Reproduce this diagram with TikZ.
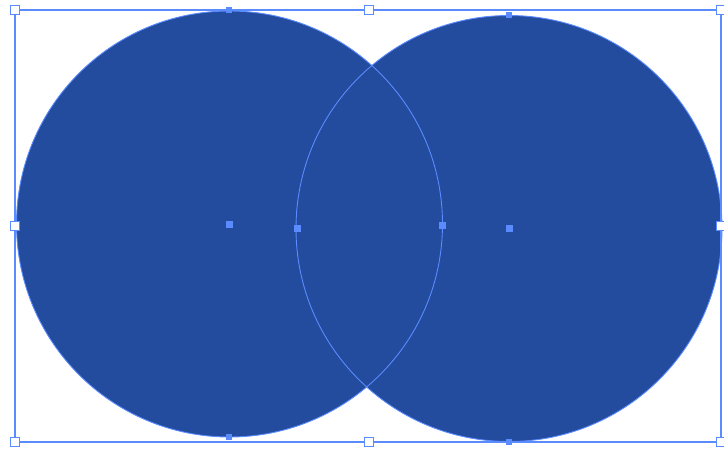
\documentclass[tikz,border=0pt]{standalone}
\begin{document}
\begin{tikzpicture}[x=1pt,y=-1pt,
  blob/.style={circle,fill=fillblue,draw=none,inner sep=0pt,minimum size=426pt},
  rim/.style={circle,draw=lineblue,line width=0.9pt,inner sep=0pt,minimum size=426pt},
  handle/.style={rectangle,draw=lineblue,fill=white,line width=1.6pt,inner sep=0pt,minimum size=9pt},
  anchorpt/.style={rectangle,fill=lineblue,draw=none,inner sep=0pt,minimum size=7pt},
  selbox/.style={draw=lineblue,line width=1.6pt}]
\definecolor{fillblue}{HTML}{234B9E}
\definecolor{lineblue}{HTML}{5B8CFF}
\useasboundingbox (0,0) rectangle (724,450);
\node[blob] (L) at (229.5,224) {};
\node[blob] (R) at (509,228.5) {};
\node[rim] (Lr) at (229.5,224) {};
\node[rim] (Rr) at (509,228.5) {};
% selection box
\coordinate (tl) at (15,10);
\coordinate (br) at (721,442);
\draw[selbox] (tl) rectangle (br);
% anchor points
\node[anchorpt] (lc) at (229.5,224) {};
\node[anchorpt] (rc) at (509,228.5) {};
\node[anchorpt] (la) at (442,225) {};
\node[anchorpt] (ra) at (297,228) {};
\node[anchorpt,minimum size=6pt] (lt) at (229,10) {};
\node[anchorpt,minimum size=6pt] (lb) at (229,437) {};
\node[anchorpt,minimum size=6pt] (rt) at (509,15) {};
\node[anchorpt,minimum size=6pt] (rb) at (509,442) {};
% handles
\node[handle] (h1) at (15,10) {};
\node[handle] (h2) at (369,10) {};
\node[handle] (h3) at (721,10) {};
\node[handle] (h4) at (15,226) {};
\node[handle] (h5) at (721,226) {};
\node[handle] (h6) at (15,442) {};
\node[handle] (h7) at (369,442) {};
\node[handle] (h8) at (721,442) {};
\end{tikzpicture}
\end{document}
